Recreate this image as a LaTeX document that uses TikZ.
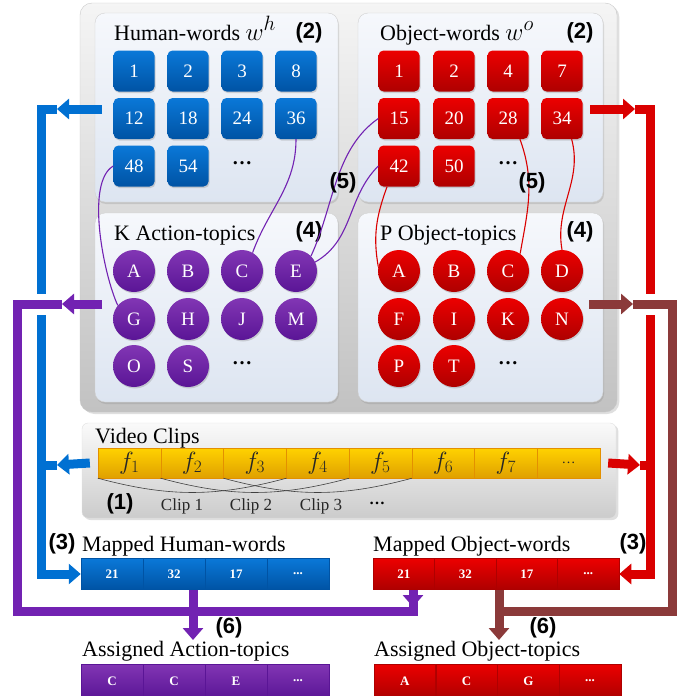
\documentclass[tikz,border=0pt]{standalone}
\usepackage{fontspec}
\setmainfont{Liberation Serif}
\setsansfont{Liberation Sans}
\usetikzlibrary{arrows.meta,shadows}

\definecolor{wblue}{HTML}{0A78D8}
\definecolor{wbluedk}{HTML}{0053A4}
\definecolor{wred}{HTML}{EC0000}
\definecolor{wreddk}{HTML}{AE0000}
\definecolor{tpurp}{HTML}{8236B4}
\definecolor{tpurpdk}{HTML}{5A1596}
\definecolor{blueln}{HTML}{0070D2}
\definecolor{redln}{HTML}{DA0000}
\definecolor{purpln}{HTML}{7222B2}
\definecolor{brownln}{HTML}{8B3A3A}
\definecolor{bandtop}{HTML}{FFD200}
\definecolor{banddk}{HTML}{E0A000}
\definecolor{panetop}{HTML}{F6F8FC}
\definecolor{panedk}{HTML}{DDE5F1}

\newcommand{\numfont}{\fontsize{22}{24}\selectfont\sffamily\bfseries}
\newcommand{\ttlfont}{\fontsize{22}{24}\selectfont}
\newcommand{\wsym}[1]{{\fontsize{28}{30}\selectfont$w^{#1}$}}

\begin{document}
\begin{tikzpicture}[x=1pt,y=-1pt,
  sq/.style={rounded corners=5pt,minimum size=41pt,inner sep=0pt,text=white,font={\fontsize{19}{20}\selectfont},drop shadow={opacity=.3,shadow xshift=1pt,shadow yshift=-1.5pt}},
  hw/.style={sq,top color=wblue,bottom color=wbluedk},
  ow/.style={sq,top color=wred,bottom color=wreddk},
  topic/.style={circle,minimum size=42pt,inner sep=0pt,text=white,font={\fontsize{19}{20}\selectfont},drop shadow={opacity=.3,shadow xshift=1pt,shadow yshift=-1.5pt}},
  atopic/.style={topic,top color=tpurp,bottom color=tpurpdk},
  otopic/.style={topic,top color=wred,bottom color=wreddk},
  panel/.style={rounded corners=10pt,draw=black!18,top color=panetop,bottom color=panedk,drop shadow={opacity=.25,shadow xshift=1pt,shadow yshift=-2pt}},
  ttl/.style={anchor=base west,inner sep=0pt,font=\ttlfont},
  numlab/.style={inner sep=0pt,font=\numfont},
  dotsnode/.style={inner sep=0pt,font={\fontsize{20}{22}\selectfont\bfseries}},
  frame/.style={minimum width=62.75pt,minimum height=30pt,inner sep=0pt,top color=bandtop,bottom color=banddk,draw=banddk!90!red,line width=.4pt,font={\fontsize{23}{24}\selectfont},text=black!85},
  mcell/.style={minimum width=62pt,minimum height=31pt,inner sep=0pt,text=white,font={\fontsize{13}{14}\selectfont\bfseries},line width=.5pt},
  bcell/.style={mcell,top color=wblue,bottom color=wbluedk,draw=wbluedk},
  rcell/.style={mcell,minimum width=61.5pt,top color=wred,bottom color=wreddk,draw=wreddk},
  pcell/.style={mcell,minimum height=34pt,top color=tpurp,bottom color=tpurpdk,draw=tpurpdk},
  cliplab/.style={inner sep=0pt,font={\fontsize{17}{18}\selectfont},text=black!85},
  thickln/.style={line width=9pt},
  tri/.style={-{Triangle[width=20pt,length=12pt]}},
  link/.style={line width=1.1pt}]

  \useasboundingbox (0,0) rectangle (686,696);

  %panels
  \node (G) at (348.5,207.5)[rounded corners=12pt,minimum width=537pt,minimum height=409pt,top color=black!4,bottom color=black!24,draw=black!22,drop shadow={opacity=.25,shadow yshift=-2pt}]{};
  \node (HWP) at (216.5,107.5)[panel,minimum width=243pt,minimum height=189pt]{};
  \node (OWP) at (480.5,107.5)[panel,minimum width=245pt,minimum height=189pt]{};
  \node (ATP) at (216.5,307.5)[panel,minimum width=243pt,minimum height=189pt]{};
  \node (OTP) at (480.5,307.5)[panel,minimum width=245pt,minimum height=189pt]{};
  \node (VP) at (349,470.5)[rounded corners=6pt,minimum width=534pt,minimum height=95pt,top color=black!2,bottom color=black!20,draw=black!12,drop shadow={opacity=.25,shadow yshift=-2pt}]{};

  %titles
  \node (HWt) at (114,40)[ttl]{Human-words \wsym{h}};
  \node (HWn) at (309,33)[numlab]{(2)};
  \node (OWt) at (380,40)[ttl]{Object-words \wsym{o}};
  \node (OWn) at (580,33)[numlab]{(2)};
  \node (ATt) at (114,240)[ttl]{K Action-topics};
  \node (ATn) at (309,232)[numlab]{(4)};
  \node (OTt) at (380,240)[ttl]{P Object-topics};
  \node (OTn) at (580,232)[numlab]{(4)};

  %human-words
  \node (H1) at (134,71)[hw]{1};
  \node (H2) at (188,71)[hw]{2};
  \node (H3) at (242,71)[hw]{3};
  \node (H8) at (296,71)[hw]{8};
  \node (H12) at (134,118.5)[hw]{12};
  \node (H18) at (188,118.5)[hw]{18};
  \node (H24) at (242,118.5)[hw]{24};
  \node (H36) at (296,118.5)[hw]{36};
  \node (H48) at (134,166)[hw]{48};
  \node (H54) at (188,166)[hw]{54};
  \node (Hdots) at (242,163)[dotsnode]{\dots};

  %object-words
  \node (O1) at (399,71)[ow]{1};
  \node (O2) at (454,71)[ow]{2};
  \node (O4) at (508,71)[ow]{4};
  \node (O7) at (562,71)[ow]{7};
  \node (O15) at (399,118.5)[ow]{15};
  \node (O20) at (454,118.5)[ow]{20};
  \node (O28) at (508,118.5)[ow]{28};
  \node (O34) at (562,118.5)[ow]{34};
  \node (O42) at (399,166)[ow]{42};
  \node (O50) at (454,166)[ow]{50};
  \node (Odots) at (508,163)[dotsnode]{\dots};

  %action-topics
  \node (KA) at (134,271)[atopic]{A};
  \node (KB) at (188,271)[atopic]{B};
  \node (KC) at (242,271)[atopic]{C};
  \node (KE) at (296,271)[atopic]{E};
  \node (KG) at (134,319)[atopic]{G};
  \node (KH) at (188,319)[atopic]{H};
  \node (KJ) at (242,319)[atopic]{J};
  \node (KM) at (296,319)[atopic]{M};
  \node (KO) at (134,366)[atopic]{O};
  \node (KS) at (188,366)[atopic]{S};
  \node (Kdots) at (242,363)[dotsnode]{\dots};

  %object-topics
  \node (PA) at (399,271)[otopic]{A};
  \node (PB) at (454,271)[otopic]{B};
  \node (PC) at (508,271)[otopic]{C};
  \node (PD) at (562,271)[otopic]{D};
  \node (PF) at (399,319)[otopic]{F};
  \node (PI) at (454,319)[otopic]{I};
  \node (PK) at (508,319)[otopic]{K};
  \node (PN) at (562,319)[otopic]{N};
  \node (PP) at (399,366)[otopic]{P};
  \node (PT) at (454,366)[otopic]{T};
  \node (Pdots) at (508,363)[dotsnode]{\dots};

  %word-topic links
  \draw[purpln,link] (H48.west) to[out=210,in=115,looseness=0.6] (KG.140);
  \draw[purpln,link] (H36.south) to[out=-90,in=70] (KC.60);
  \draw[purpln,link] (O15.west) to[out=215,in=65,looseness=0.9] (KE.45);
  \draw[purpln,link] (O42.west) to[out=225,in=30] (KE.25);
  \draw[redln,link] (O42.240) to[out=250,in=100] (PA.168);
  \draw[redln,link] (O28.-60) to[out=-70,in=80] (PC.55);
  \draw[redln,link] (O34.-65) to[out=-75,in=100] (PD.north);
  \node (L5a) at (343,183)[numlab]{(5)};
  \node (L5b) at (532,183)[numlab]{(5)};

  %video clips
  \node (VCt) at (95,443)[ttl]{Video Clips};
  \node (F1) at (129.4,463)[frame]{$f_1$};
  \node (F2) at (192.1,463)[frame]{$f_2$};
  \node (F3) at (254.9,463)[frame]{$f_3$};
  \node (F4) at (317.6,463)[frame]{$f_4$};
  \node (F5) at (380.4,463)[frame]{$f_5$};
  \node (F6) at (443.1,463)[frame]{$f_6$};
  \node (F7) at (505.9,463)[frame]{$f_7$};
  \node (F8) at (568.6,463)[frame]{\fontsize{14}{16}\selectfont\dots};
  \draw[black!75,semithick] (F1.south west) to[out=-15,in=195] (F3.south east);
  \draw[black!75,semithick] (F2.south west) to[out=-15,in=195] (F4.south east);
  \draw[black!75,semithick] (F3.south west) to[out=-15,in=195] (F5.south east);
  \node (V1) at (120,504)[numlab]{(1)};
  \node (C1) at (182,506)[cliplab]{Clip 1};
  \node (C2) at (251,506)[cliplab]{Clip 2};
  \node (C3) at (321,506)[cliplab]{Clip 3};
  \node (Cdots) at (377,503)[dotsnode,font={\fontsize{16}{18}\selectfont\bfseries}]{\dots};

  %mapped words
  \node (MHt) at (82,551)[ttl]{Mapped Human-words};
  \node (MH1) at (112,574)[bcell]{21};
  \node (MH2) at (174,574)[bcell]{32};
  \node (MH3) at (236,574)[bcell]{17};
  \node (MH4) at (298,574)[bcell]{...};
  \node (MOt) at (373,551)[ttl]{Mapped Object-words};
  \node (MO1) at (403.75,574)[rcell]{21};
  \node (MO2) at (465.25,574)[rcell]{32};
  \node (MO3) at (526.75,574)[rcell]{17};
  \node (MO4) at (588.25,574)[rcell]{...};

  %assigned topics
  \node (AAt) at (82,656)[ttl]{Assigned Action-topics};
  \node (AA1) at (112,681)[pcell]{C};
  \node (AA2) at (174,681)[pcell]{C};
  \node (AA3) at (236,681)[pcell]{E};
  \node (AA4) at (298,681)[pcell]{...};
  \node (AOt) at (374,656)[ttl]{Assigned Object-topics};
  \node (AO1) at (404.9,681)[rcell,minimum height=34pt]{A};
  \node (AO2) at (466.6,681)[rcell,minimum height=34pt]{C};
  \node (AO3) at (528.4,681)[rcell,minimum height=34pt]{G};
  \node (AO4) at (590.1,681)[rcell,minimum height=34pt]{...};

  %flow coordinates
  \coordinate (hwout) at (102,109);
  \coordinate (btop) at (57,109);
  \coordinate (bl) at (41,109);
  \coordinate (vbl) at (57,465);
  \coordinate (owout) at (590,109);
  \coordinate (rtop) at (635,109);
  \coordinate (rl) at (650,109);
  \coordinate (vrl) at (640,465);
  \coordinate (atout) at (102,304);
  \coordinate (ptop) at (62,304);
  \coordinate (pl) at (17,304);
  \coordinate (pc) at (413,611);
  \coordinate (pm) at (413,607);
  \coordinate (pa) at (193,640);
  \coordinate (otout) at (589,304);
  \coordinate (brtop) at (633,304);
  \coordinate (brl) at (672,304);
  \coordinate (brc) at (494.5,611);
  \coordinate (ba) at (499,640);

  %words to mapped words
  \draw[blueln,thickln,tri] (hwout) -- (btop);
  \draw[blueln,thickln,tri] (btop) -- (bl) |- (MH1.west);
  \draw[blueln,thickln,tri] ([xshift=-8pt]F1.west) -- (vbl);
  \draw[blueln,thickln] (vbl) -- (vbl -| bl);
  \draw[redln,thickln,tri] (owout) -- (rtop);
  \draw[redln,thickln,tri] (rtop) -- (rl) |- (MO4.east);
  \draw[redln,thickln,tri] ([xshift=8pt]F8.east) -- (vrl);
  \draw[redln,thickln] (vrl) -- (vrl -| rl);

  %topics to assigned topics
  \draw[purpln,thickln,tri] (atout) -- (ptop);
  \draw[purpln,thickln,preaction={draw=white,line width=21pt}] (ptop) -- (pl) |- (pc) -- ++(0,-10);
  \draw[purpln,thickln,tri] (MH2.south -| pa) -- (pa);
  \draw[purpln,thickln,tri] (MO1.south -| pm) -- (pm);
  \draw[brownln,thickln,tri] (otout) -- (brtop);
  \draw[brownln,thickln,preaction={draw=white,line width=21pt}] (brtop) -- (brl) |- (brc);
  \draw[brownln,thickln,tri] (MO3.south -| ba) -- (ba);

  %step labels
  \node (MHn) at (62,544)[numlab]{(3)};
  \node (MOn) at (633,544)[numlab]{(3)};
  \node (AAn) at (229,628)[numlab]{(6)};
  \node (AOn) at (543,628)[numlab]{(6)};
\end{tikzpicture}
\end{document}
